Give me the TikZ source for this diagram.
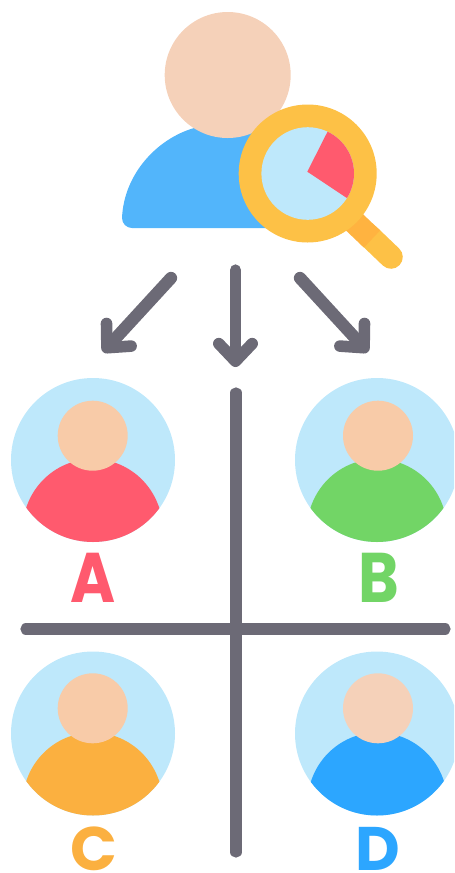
\documentclass[tikz,border=0pt]{standalone}
\usepackage{fontspec}
\setmainfont{Poppins}
\usepackage{tikz}
\usetikzlibrary{arrows.meta}
\definecolor{skin}{HTML}{F5D1B9}
\definecolor{skintwo}{HTML}{F8CBA8}
\definecolor{shirt}{HTML}{52B5FB}
\definecolor{ring}{HTML}{FDC146}
\definecolor{handle}{HTML}{FFB340}
\definecolor{lens}{HTML}{BEE8FB}
\definecolor{rose}{HTML}{FF5A6E}
\definecolor{leaf}{HTML}{72D566}
\definecolor{amber}{HTML}{FBB040}
\definecolor{azure}{HTML}{2CA6FF}
\definecolor{slate}{HTML}{6C6A76}
\tikzset{
    pointer/.style={draw=slate, line width=7pt, line cap=round, line join=round,
        -{Straight Barb[length=10pt, width=19pt, line width=6.6pt, round]}},
    midpointer/.style={pointer, line width=6.4pt},
    divider/.style={draw=slate, line width=6.4pt, line cap=round},
    letter/.style={anchor=base, inner sep=0pt, font=\fontsize{40}{40}\selectfont\bfseries},
    smallletter/.style={letter, font=\fontsize{35}{35}\selectfont\bfseries}
}

\begin{document}
\begin{tikzpicture}[x=0.02cm, y=0.02cm]
            \clip (0,0) rectangle (454,-873);
            \fill [shirt] (132,-228) arc (270:180:10) .. controls (124,-172) and (160,-136) .. (198,-127) -- (280,-127) -- (290,-228) -- cycle;
            \fill [skin] (227.7,-75) circle (63);
            \draw [ring, line width=13.4pt, line cap=round] (368,-235) -- (391,-257);
            \draw [handle, line width=13.4pt] (352,-220) -- (372,-239);
            \fill [ring] (307.7,-173.5) circle (69);
            \fill [lens] (307.7,-173.5) circle (46.3);
            \begin{scope}
            \clip (307.7,-173.5) circle (46.3);
            \fill [rose] (307.3,-171.7) -- (337,-113) -- (380,-113) -- (380,-220) -- cycle;
            \end{scope}
            \coordinate (leftfrom) at (171,-278);
            \coordinate (leftto) at (103,-352);
            \coordinate (midfrom) at (235.5,-270);
            \coordinate (midto) at (235.5,-367);
            \coordinate (rightfrom) at (300,-278);
            \coordinate (rightto) at (368,-352);
            \draw [pointer] (leftfrom) -- (leftto);
            \draw [midpointer] (midfrom) -- (midto);
            \draw [pointer] (rightfrom) -- (rightto);
            \coordinate (vtop) at (236,-393);
            \coordinate (vbot) at (236,-852);
            \coordinate (hleft) at (26,-629);
            \coordinate (hright) at (445,-629);
            \draw [divider] (vtop) -- (vbot);
            \draw [divider] (hleft) -- (hright);
            \fill [lens] (93,-460) circle (82);
            \begin{scope}
            \clip (93,-460) circle (82);
            \fill [rose] (92.7,-530) ellipse (70 and 71);
            \end{scope}
            \fill [skintwo] (92.7,-435.7) circle (35);
            \node [letter, text=rose] (labela) at (93,-602) {\scalebox{0.87}[1]{A}};
            \fill [lens] (377,-460) circle (82);
            \begin{scope}
            \clip (377,-460) circle (82);
            \fill [leaf] (377,-530) ellipse (70 and 71);
            \end{scope}
            \fill [skintwo] (378,-435.7) circle (35);
            \node [letter, text=leaf] (labelb) at (379,-602) {\scalebox{0.88}[1]{B}};
            \fill [lens] (93,-733.5) circle (82);
            \begin{scope}
            \clip (93,-733.5) circle (82);
            \fill [amber] (92.7,-803.5) ellipse (70 and 71);
            \end{scope}
            \fill [skintwo] (92.7,-708.3) circle (35);
            \node [smallletter, text=amber] (labelc) at (94,-870) {C};
            \fill [lens] (377,-733.5) circle (82);
            \begin{scope}
            \clip (377,-733.5) circle (82);
            \fill [azure] (377.5,-803.5) ellipse (70 and 71);
            \end{scope}
            \fill [skin] (378,-708.3) circle (35);
            \node [smallletter, text=azure] (labeld) at (378,-870) {D};
            \end{tikzpicture}
\end{document}
